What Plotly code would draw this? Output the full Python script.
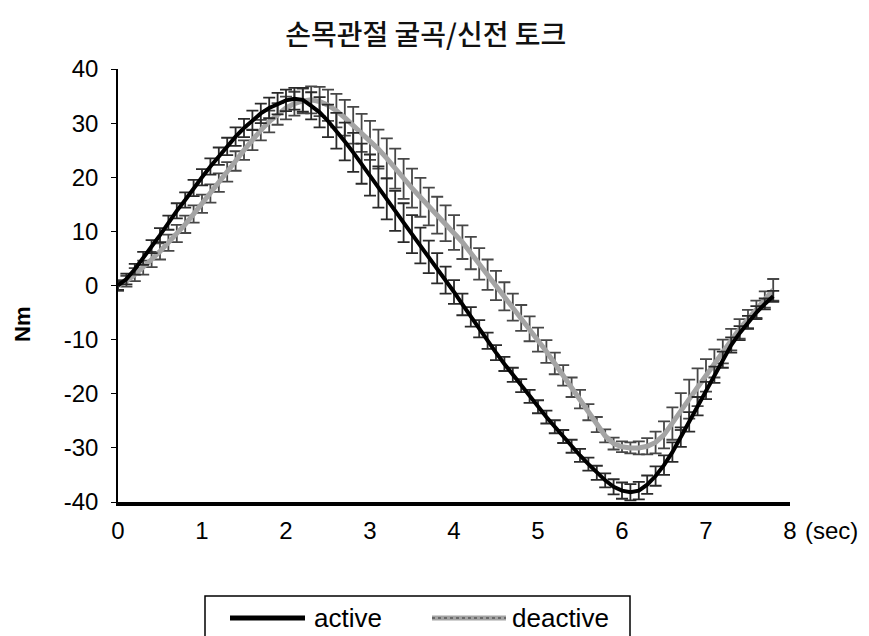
import plotly.graph_objects as go

# time in seconds (0.0 .. 7.8, every 0.1 s)
time_sec = [round(i * 0.1, 1) for i in range(79)]

active = [0, 1.2, 3.0, 5.0, 7.2, 9.3, 11.6, 13.8, 15.8, 18.0,
          20.0, 22.0, 23.9, 25.7, 27.5, 29.1, 30.5, 31.8, 32.8, 33.6,
          34.2, 34.5, 34.3, 33.2, 32.0, 30.4, 28.6, 26.6, 24.6, 22.5,
          20.4, 18.2, 16.0, 13.8, 11.6, 9.5, 7.4, 5.3, 3.2, 1.0,
          -1.2, -3.5, -5.8, -8.0, -10.2, -12.4, -14.5, -16.5, -18.5, -20.5,
          -22.4, -24.3, -26.1, -27.9, -29.7, -31.4, -33.0, -34.6, -36.0, -37.2,
          -37.9, -38.2, -37.9, -36.8, -35.2, -33.2, -30.8, -28.0, -25.2, -22.3,
          -19.4, -16.5, -13.7, -11.0, -8.8, -6.8, -5.0, -3.4, -2.0]

active_err = [0.8, 1.0, 1.0, 1.2, 1.2, 1.3, 1.3, 1.4, 1.4, 1.5,
              1.5, 1.5, 1.6, 1.6, 1.7, 1.7, 1.8, 1.8, 1.9, 2.0,
              2.0, 2.0, 2.2, 2.5, 2.8, 3.0, 3.3, 3.5, 3.6, 3.7,
              3.8, 3.8, 3.8, 3.7, 3.6, 3.5, 3.3, 3.0, 2.8, 2.5,
              2.2, 2.0, 1.8, 1.6, 1.5, 1.4, 1.3, 1.3, 1.2, 1.2,
              1.2, 1.2, 1.2, 1.2, 1.2, 1.2, 1.2, 1.3, 1.3, 1.4,
              1.5, 1.5, 1.6, 1.7, 1.8, 1.8, 1.8, 1.8, 1.8, 1.7,
              1.6, 1.5, 1.5, 1.4, 1.3, 1.2, 1.2, 1.0, 1.0]

deactive = [0, 0.8, 2.0, 3.3, 4.8, 6.3, 7.9, 9.6, 11.3, 13.2,
            15.1, 17.0, 19.0, 21.0, 23.0, 25.0, 26.9, 28.7, 30.3, 31.7,
            32.8, 33.6, 34.1, 34.3, 34.0, 33.3, 32.3, 31.0, 29.6, 28.2,
            26.8, 25.2, 23.5, 21.6, 19.7, 18.0, 16.3, 14.6, 13.0, 11.5,
            9.8, 8.0, 6.0, 4.0, 2.0, 0.0, -2.0, -4.0, -6.0, -8.0,
            -10.0, -12.2, -14.4, -16.6, -18.8, -21.0, -23.4, -25.7, -27.8, -29.2,
            -29.8, -30.0, -30.0, -29.7, -29.0, -27.6, -25.5, -23.3, -21.0, -18.8,
            -16.6, -14.4, -12.2, -10.0, -8.0, -6.2, -4.4, -2.6, -0.8]

deactive_err = [1.0, 1.0, 1.2, 1.3, 1.4, 1.5, 1.5, 1.6, 1.6, 1.6,
                1.7, 1.7, 1.7, 1.8, 1.8, 1.8, 1.9, 1.9, 2.0, 2.0,
                2.1, 2.2, 2.3, 2.5, 2.7, 2.9, 3.1, 3.3, 3.4, 3.5,
                3.6, 3.6, 3.7, 3.7, 3.7, 3.6, 3.6, 3.5, 3.4, 3.3,
                3.2, 3.1, 3.0, 2.9, 2.8, 2.7, 2.6, 2.5, 2.4, 2.3,
                2.2, 2.1, 2.0, 1.9, 1.8, 1.7, 1.5, 1.4, 1.2, 1.1,
                1.0, 1.0, 1.2, 1.5, 2.0, 2.5, 3.0, 3.4, 3.6, 3.5,
                3.0, 2.6, 2.2, 2.0, 1.8, 1.7, 1.6, 1.5, 2.0]

x_ticks = [0, 1, 2, 3, 4, 5, 6, 7, 8]
y_ticks = [-40, -30, -20, -10, 0, 10, 20, 30, 40]

title_text = "손목관절 굴곡/신전 토크"
y_title = "Nm"
x_unit = "(sec)"
series_names = ["active", "deactive"]
series_colors = ["#000000", "#a4a4a4"]

FONT = "Liberation Sans Narrow, Arial Narrow, Liberation Sans, Arial, sans-serif"

fig = go.Figure()

fig.add_trace(go.Scatter(
    x=time_sec, y=deactive, name=series_names[1], mode="lines",
    line=dict(color=series_colors[1], width=5),
    error_y=dict(type="data", array=deactive_err, visible=True,
                 color="#474747", thickness=1.8, width=6),
))
fig.add_trace(go.Scatter(
    x=time_sec, y=active, name=series_names[0], mode="lines",
    line=dict(color=series_colors[0], width=4),
    error_y=dict(type="data", array=active_err, visible=True,
                 color="#2a2a2a", thickness=1.8, width=6),
))

# legend box drawn in paper coordinates (plot area: x 118..790 px, y 69..502 px)
def px_x(p):
    return (p - 118) / 672.0

def px_y(p):
    return (502 - p) / 433.0

shapes = [
    dict(type="rect", xref="paper", yref="paper",
         x0=px_x(205), x1=px_x(630), y0=px_y(645), y1=px_y(596),
         line=dict(color="#000", width=1.5), fillcolor="white", layer="above"),
    dict(type="line", xref="paper", yref="paper",
         x0=px_x(230), x1=px_x(305), y0=px_y(618), y1=px_y(618),
         line=dict(color=series_colors[0], width=5)),
    dict(type="line", xref="paper", yref="paper",
         x0=px_x(432), x1=px_x(506), y0=px_y(618), y1=px_y(618),
         line=dict(color=series_colors[1], width=5)),
    dict(type="line", xref="paper", yref="paper",
         x0=px_x(432), x1=px_x(506), y0=px_y(618), y1=px_y(618),
         line=dict(color="#6a6a6a", width=2, dash="dot")),
]

fig.update_layout(
    width=869, height=636,
    margin=dict(l=118, r=79, t=69, b=134, autoexpand=False),
    paper_bgcolor="white", plot_bgcolor="white",
    showlegend=False,
    title=dict(text=title_text, x=0.49, xanchor="center", y=0.945, yanchor="middle",
               font=dict(family="Noto Sans CJK KR, sans-serif", size=28, color="#111",
                         weight=500)),
    xaxis=dict(range=[0, 8], tickvals=x_ticks, ticktext=[str(v) for v in x_ticks],
               showgrid=False, zeroline=False, showline=True, linecolor="#000",
               linewidth=4, ticks="", ticklabelstandoff=4,
               tickfont=dict(family=FONT, size=24, color="#000")),
    yaxis=dict(range=[-40, 40], tickvals=y_ticks, ticktext=[str(v) for v in y_ticks],
               showgrid=False, zeroline=False, showline=True, linecolor="#000",
               linewidth=1.5, ticks="outside", ticklen=5, tickwidth=1.2, tickcolor="#000",
               ticklabelstandoff=8,
               tickfont=dict(family=FONT, size=24, color="#000")),
    shapes=shapes,
    annotations=[
        dict(text=x_unit, xref="paper", yref="paper", x=px_x(803), y=px_y(530),
             xanchor="left", yanchor="middle", showarrow=False,
             font=dict(family=FONT, size=24, color="#000")),
        dict(text="<b>" + y_title + "</b>", xref="paper", yref="paper", x=px_x(22), y=px_y(325),
             xanchor="center", yanchor="middle", showarrow=False, textangle=-90,
             font=dict(family="Liberation Sans, Arial, sans-serif", size=22, color="#000")),
        dict(text=series_names[0], xref="paper", yref="paper", x=px_x(312), y=px_y(618),
             xanchor="left", yanchor="middle", showarrow=False,
             font=dict(family=FONT, size=26, color="#000")),
        dict(text=series_names[1], xref="paper", yref="paper", x=px_x(510), y=px_y(618),
             xanchor="left", yanchor="middle", showarrow=False,
             font=dict(family=FONT, size=26, color="#000")),
    ],
)

fig.write_html("out.html")
